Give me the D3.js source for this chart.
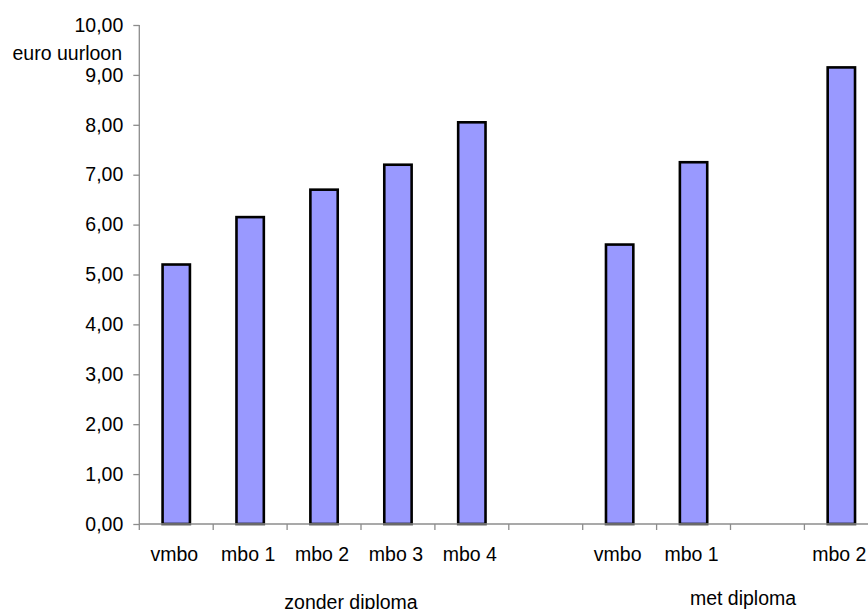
<!DOCTYPE html>
<html><head><meta charset="utf-8">
<script src="https://cdn.jsdelivr.net/npm/d3@7"></script>
<style>body{margin:0;background:#fff}svg{display:block}text{font-family:"Liberation Sans",Arial,sans-serif}</style>
</head><body>
<svg id="c" width="868" height="609"></svg>
<script>
const categories = ["vmbo","mbo 1","mbo 2","mbo 3","mbo 4","","vmbo","mbo 1","","mbo 2"];
const values = [5.20, 6.15, 6.70, 7.20, 8.05, null, 5.60, 7.25, null, 9.15];
const yTicks = [0,1,2,3,4,5,6,7,8,9,10];
const yTitle = "euro uurloon";
const groups = ["zonder diploma", "met diploma"];

(function(){
const svg = d3.select("#c");
const mLeft = 139.3, mRight = 878.3, mTop = 25, mBottom = 524;
const fs = 19.5, axisColor = "#8c8c8c";

const slots = categories.map((c,i)=>i);
const x = d3.scaleBand().domain(slots).range([mLeft, mRight]).padding(0);
const y = d3.scaleLinear().domain([0,10]).range([mBottom, mTop]);

// bars
const bw = x.bandwidth()*0.37;
svg.append("g").selectAll("rect")
  .data(slots.filter(i => values[i] != null))
  .join("rect")
  .attr("x", i => x(i) + x.bandwidth()/2 - bw/2)
  .attr("y", i => y(values[i]))
  .attr("width", bw)
  .attr("height", i => y(0) - y(values[i]))
  .attr("fill", "#9999ff")
  .attr("stroke", "#000")
  .attr("stroke-width", 2.6);

// y axis
const ya = svg.append("g").attr("transform", `translate(${mLeft},0)`)
  .call(d3.axisLeft(y).tickValues(yTicks).tickSize(6).tickPadding(10)
        .tickFormat(d => d.toFixed(2).replace(".", ",")));
ya.selectAll("path,line").attr("stroke", axisColor).attr("stroke-width", 1.3);
ya.select(".domain").attr("d", `M0,${mTop}V${mBottom}`);
ya.selectAll("text").attr("font-size", fs).attr("fill", "#000")
  .attr("font-family", "Liberation Sans, Arial, sans-serif");

// x axis line and boundary ticks
const xg = svg.append("g");
xg.append("line").attr("x1", mLeft).attr("x2", mRight).attr("y1", mBottom).attr("y2", mBottom)
  .attr("stroke", axisColor).attr("stroke-width", 1.3);
xg.selectAll("line.tk").data(slots).join("line").attr("class","tk")
  .attr("x1", i => x(i)).attr("x2", i => x(i))
  .attr("y1", mBottom).attr("y2", mBottom + 6)
  .attr("stroke", axisColor).attr("stroke-width", 1.3);
xg.selectAll("text").data(slots).join("text")
  .attr("x", i => x(i) + x.bandwidth()/2 - 2)
  .attr("y", 561)
  .attr("text-anchor", "middle")
  .attr("font-size", fs)
  .text(i => categories[i]);

// y title
svg.append("text").attr("x", 122).attr("y", 60).attr("text-anchor", "end")
  .attr("font-size", fs).text(yTitle);

// group labels
svg.append("text").attr("x", 351).attr("y", 609).attr("text-anchor", "middle")
  .attr("font-size", fs).text(groups[0]);
svg.append("text").attr("x", 743).attr("y", 605).attr("text-anchor", "middle")
  .attr("font-size", fs).text(groups[1]);
})();
</script>
</body></html>
